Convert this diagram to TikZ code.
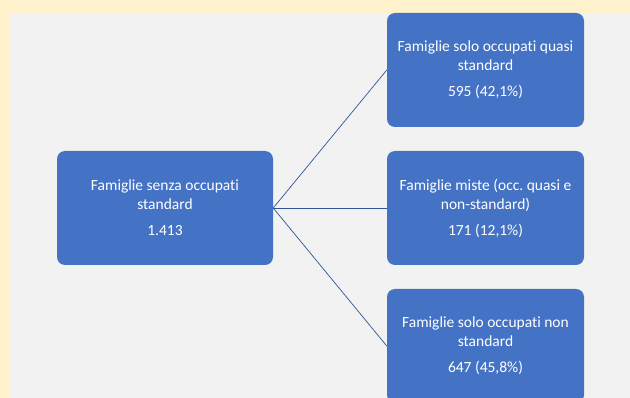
\documentclass[tikz,border=0pt]{standalone}
\usepackage{fontspec}
\setmainfont[Ligatures=NoCommon]{Carlito}
\usetikzlibrary{positioning}
\frenchspacing
\definecolor{sheet}{HTML}{FFF2CC}
\definecolor{panel}{HTML}{F2F2F2}
\definecolor{boxblue}{HTML}{4472C4}
\definecolor{lineblue}{HTML}{2F5597}
\tikzset{%
  famnode/.style = {shape=rectangle, rounded corners=8pt,%
                    fill=boxblue, draw=none, text=white, align=center,%
                    minimum width=197pt, minimum height=114pt,%
                    font=\fontsize{15.5}{19}\selectfont},%
  rootnode/.style = {famnode, minimum width=216pt},%
  branch/.style  = {draw=lineblue, line width=0.7pt}%
}

\begin{document}
\begin{tikzpicture}[x=1pt,y=-1pt]
	\clip (0,0) rectangle (630,398);
	\useasboundingbox (0,0) rectangle (630,398);
	\fill[sheet] (0,0) rectangle (630,398);
	\fill[panel] (10,13) rectangle (630,398);
	% root and the three groups
	\node [rootnode] (root) at (165,208)
		{Famiglie senza occupati\\standard\\[7pt]1.413};
	\node [famnode] (quasi) at (485.5,70)
		{Famiglie solo occupati quasi\\standard\\[7pt]595 (42,1\%)};
	\node [famnode] (miste) at (485.5,208)
		{Famiglie miste (occ. quasi e\\non-standard)\\[7pt]171 (12,1\%)};
	\node [famnode] (nonstd) at (485.5,346)
		{Famiglie solo occupati non\\standard\\[7pt]647 (45,8\%)};
	% fan of connectors
	\draw [branch] (root.east) -- (quasi.west);
	\draw [branch] (root.east) -- (miste.west);
	\draw [branch] (root.east) -- (nonstd.west);
\end{tikzpicture}
\end{document}
